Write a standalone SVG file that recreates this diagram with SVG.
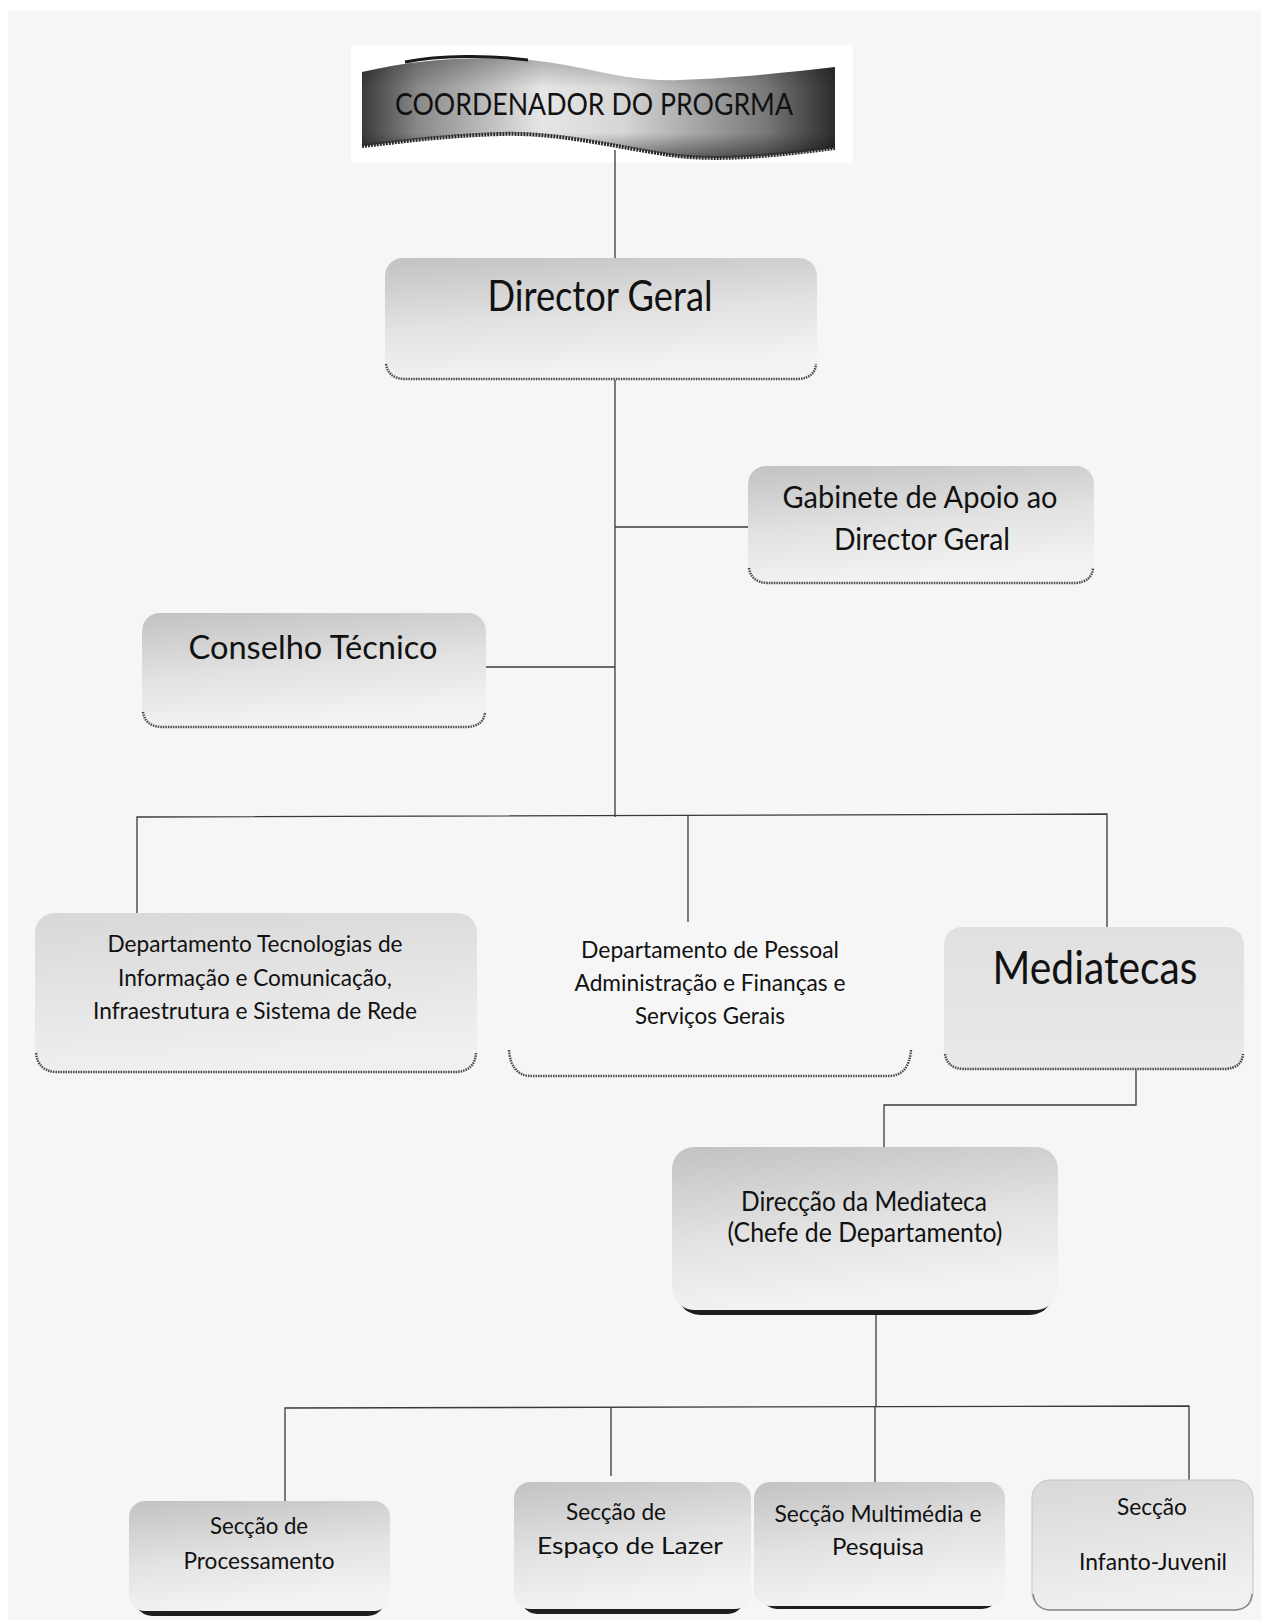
<svg xmlns="http://www.w3.org/2000/svg" width="1261" height="1620" viewBox="0 0 1261 1620">
<defs>
<style>
.t{font-family:Lato,"Open Sans","Liberation Sans",sans-serif;fill:#111;text-anchor:middle}
.c{fill:none;stroke:#3a3a3a;stroke-width:1.3}
.sh{fill:none;stroke:#4a4a4a;stroke-width:2.5;stroke-dasharray:1.5 1}
.shk{fill:#1e1e1e}
</style>
<linearGradient id="gBox" x1="0" y1="0" x2="0.25" y2="1">
<stop offset="0" stop-color="#c2c2c2"/>
<stop offset="0.55" stop-color="#e2e2e2"/>
<stop offset="1" stop-color="#f3f3f3"/>
</linearGradient>
<linearGradient id="gLight" x1="0" y1="0" x2="0.2" y2="1">
<stop offset="0" stop-color="#d8d8d8"/>
<stop offset="1" stop-color="#f0f0f0"/>
</linearGradient>
<linearGradient id="gFlat" x1="0" y1="0" x2="0" y2="1">
<stop offset="0" stop-color="#e0e0e0"/>
<stop offset="1" stop-color="#e9e9e9"/>
</linearGradient>
<linearGradient id="gBan" x1="0" y1="0" x2="1" y2="0">
<stop offset="0" stop-color="#3a3a3a"/>
<stop offset="0.12" stop-color="#8a8a8a"/>
<stop offset="0.38" stop-color="#e6e6e6"/>
<stop offset="0.55" stop-color="#d6d6d6"/>
<stop offset="0.85" stop-color="#7a7a7a"/>
<stop offset="1" stop-color="#2c2c2c"/>
</linearGradient>
<linearGradient id="gBanV" x1="0" y1="0" x2="0" y2="1">
<stop offset="0" stop-color="#000" stop-opacity="0.25"/>
<stop offset="0.3" stop-color="#000" stop-opacity="0"/>
<stop offset="0.75" stop-color="#000" stop-opacity="0"/>
<stop offset="1" stop-color="#000" stop-opacity="0.45"/>
</linearGradient>
</defs>
<rect x="0" y="0" width="1261" height="1620" fill="#ffffff"/>
<rect x="8" y="11" width="1253" height="1609" fill="#f6f6f6"/>

<g id="coordenador">
<rect x="351" y="45" width="502" height="118" fill="#ffffff"/>
<path d="M362,72 C420,58 480,56 530,60 C590,66 620,82 680,80 C740,78 790,72 835,67 L835,148 C780,155 720,162 670,155 C620,148 560,132 500,134 C440,136 400,142 362,146 Z" fill="url(#gBan)"/>
<path d="M362,72 C420,58 480,56 530,60 C590,66 620,82 680,80 C740,78 790,72 835,67 L835,148 C780,155 720,162 670,155 C620,148 560,132 500,134 C440,136 400,142 362,146 Z" fill="url(#gBanV)"/>
<path d="M362,146 C400,142 440,136 500,134 C560,132 620,148 670,155 C720,162 780,155 835,148" fill="none" stroke="#2a2a2a" stroke-width="4" stroke-dasharray="2 1"/>
<path d="M405,62 C440,55 490,55 528,60" fill="none" stroke="#1a1a1a" stroke-width="3"/>
<text class="t" x="594" y="115" font-size="31" textLength="398" lengthAdjust="spacingAndGlyphs">COORDENADOR DO PROGRMA</text>
</g>

<g id="connectors">
<path class="c" d="M615,150 V258"/>
<path class="c" d="M615,380 V817"/>
<path class="c" d="M615,527 H748"/>
<path class="c" d="M486,667 H615"/>
<path class="c" d="M137,913 V817 L1107,814 V927"/>
<path class="c" d="M688,816 V922"/>
<path class="c" d="M1136,1070 V1105 H884 V1147"/>
<path class="c" d="M876,1310 V1407"/>
<path class="c" d="M285,1501 V1408 L1189,1406 V1480"/>
<path class="c" d="M611,1407 V1476"/>
<path class="c" d="M875,1407 V1482"/>
</g>

<g id="director-geral">
<rect x="385" y="258" width="432" height="122" rx="18" fill="url(#gBox)"/>
<path class="sh" d="M386,364 Q388,378 404,379 H798 Q815,378 816,364"/>
<text class="t" x="600" y="311" font-size="43" textLength="225" lengthAdjust="spacingAndGlyphs">Director Geral</text>
</g>

<g id="gabinete">
<rect x="748" y="466" width="346" height="118" rx="18" fill="url(#gBox)"/>
<path class="sh" d="M749,568 Q751,582 767,583 H1075 Q1092,582 1093,568"/>
<text class="t" x="920" y="508" font-size="30" textLength="275" lengthAdjust="spacingAndGlyphs">Gabinete de Apoio ao</text>
<text class="t" x="922" y="550" font-size="30" textLength="176" lengthAdjust="spacingAndGlyphs">Director Geral</text>
</g>

<g id="conselho">
<rect x="142" y="613" width="344" height="115" rx="18" fill="url(#gBox)"/>
<path class="sh" d="M143,712 Q145,726 161,727 H467 Q484,726 485,712"/>
<text class="t" x="313" y="659" font-size="33" textLength="249" lengthAdjust="spacingAndGlyphs">Conselho Técnico</text>
</g>

<g id="dti">
<rect x="35" y="913" width="442" height="160" rx="20" fill="url(#gLight)"/>
<path class="sh" d="M36,1053 Q38,1071 56,1072 H456 Q475,1071 476,1053"/>
<text class="t" x="255" y="952" font-size="23" textLength="295" lengthAdjust="spacingAndGlyphs">Departamento Tecnologias de</text>
<text class="t" x="255" y="986" font-size="23" textLength="274" lengthAdjust="spacingAndGlyphs">Informação e Comunicação,</text>
<text class="t" x="255" y="1019" font-size="23" textLength="324" lengthAdjust="spacingAndGlyphs">Infraestrutura e Sistema de Rede</text>
</g>

<g id="pessoal">
<path class="sh" d="M509,1050 Q511,1075 530,1076 H890 Q909,1075 911,1050"/>
<text class="t" x="710" y="958" font-size="23" textLength="258" lengthAdjust="spacingAndGlyphs">Departamento de Pessoal</text>
<text class="t" x="710" y="991" font-size="23" textLength="271" lengthAdjust="spacingAndGlyphs">Administração e Finanças e</text>
<text class="t" x="710" y="1024" font-size="23" textLength="150" lengthAdjust="spacingAndGlyphs">Serviços Gerais</text>
</g>

<g id="mediatecas">
<rect x="944" y="927" width="300" height="143" rx="18" fill="url(#gFlat)"/>
<path class="sh" d="M945,1054 Q947,1068 963,1069 H1225 Q1242,1068 1243,1054"/>
<text class="t" x="1095" y="984" font-size="46" textLength="205" lengthAdjust="spacingAndGlyphs">Mediatecas</text>
</g>

<g id="direccao">
<path class="shk" d="M674,1280 Q676,1314 700,1315 H1030 Q1054,1314 1056,1280 Z"/>
<rect x="672" y="1147" width="386" height="163" rx="22" fill="url(#gBox)"/>
<text class="t" x="864" y="1211" font-size="26" textLength="246" lengthAdjust="spacingAndGlyphs">Direcção da Mediateca</text>
<text class="t" x="865" y="1242" font-size="26" textLength="275" lengthAdjust="spacingAndGlyphs">(Chefe de Departamento)</text>
</g>

<g id="processamento">
<path class="shk" d="M131,1585 Q133,1615 152,1616 H368 Q387,1615 389,1585 Z"/>
<rect x="129" y="1501" width="261" height="110" rx="16" fill="url(#gBox)"/>
<text class="t" x="259" y="1534" font-size="23" textLength="98" lengthAdjust="spacingAndGlyphs">Secção de</text>
<text class="t" x="259" y="1569" font-size="23" textLength="151" lengthAdjust="spacingAndGlyphs">Processamento</text>
</g>

<g id="lazer">
<path class="shk" d="M516,1580 Q518,1613 537,1614 H728 Q747,1613 749,1580 Z"/>
<rect x="514" y="1482" width="237" height="127" rx="16" fill="url(#gBox)"/>
<text class="t" x="616" y="1520" font-size="23" textLength="100" lengthAdjust="spacingAndGlyphs">Secção de</text>
<text class="t" x="630" y="1554" font-size="24" textLength="186" lengthAdjust="spacingAndGlyphs">Espaço de Lazer</text>
</g>

<g id="multimedia">
<path class="shk" d="M756,1578 Q758,1608 777,1609 H982 Q1001,1608 1003,1578 Z"/>
<rect x="754" y="1482" width="251" height="124" rx="16" fill="url(#gBox)"/>
<text class="t" x="878" y="1522" font-size="23" textLength="207" lengthAdjust="spacingAndGlyphs">Secção Multimédia e</text>
<text class="t" x="878" y="1555" font-size="23" textLength="92" lengthAdjust="spacingAndGlyphs">Pesquisa</text>
</g>

<g id="infanto">
<rect x="1032" y="1480" width="221" height="130" rx="18" fill="url(#gLight)" stroke="#c4c4c4" stroke-width="1"/>
<path d="M1033,1594 Q1035,1609 1050,1610 H1235 Q1251,1609 1252,1594" fill="none" stroke="#888" stroke-width="1.5"/>
<text class="t" x="1152" y="1515" font-size="23" textLength="70" lengthAdjust="spacingAndGlyphs">Secção</text>
<text class="t" x="1153" y="1570" font-size="23" textLength="148" lengthAdjust="spacingAndGlyphs">Infanto-Juvenil</text>
</g>
</svg>
